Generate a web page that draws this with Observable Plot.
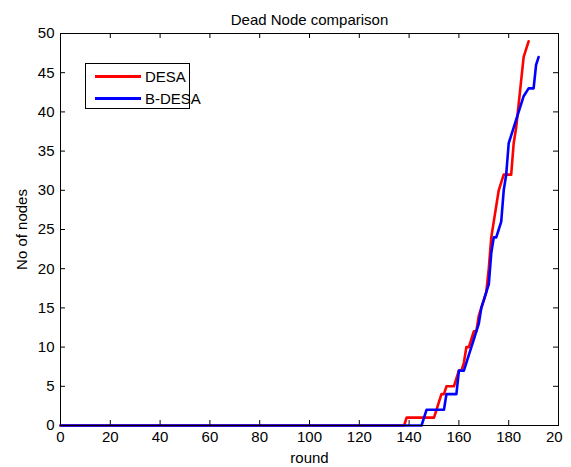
<!DOCTYPE html>
<html><head><meta charset="utf-8">
<script src="https://cdn.jsdelivr.net/npm/d3@7"></script>
<script src="https://cdn.jsdelivr.net/npm/@observablehq/plot@0.6"></script>
<style>
body{margin:0;background:#fff;font-family:"Liberation Sans",Arial,sans-serif}
#wrap{position:relative;width:571px;height:467px}
#chart svg{overflow:hidden;display:block}
#legend{position:absolute;left:85px;top:63px;width:105px;height:46px;border:1px solid #000;background:#fff;box-sizing:border-box}
.row{position:absolute;left:9px;height:18px;display:flex;align-items:center;font-size:15px;color:#000;white-space:nowrap}
.sw{width:46px;height:3px;margin-right:4px;flex:none}
</style>
</head><body>
<div id="wrap"><div id="chart"></div>
<div id="legend">
  <div class="row" style="top:3px"><div class="sw" style="background:#ff0000"></div><span>DESA</span></div>
  <div class="row" style="top:25px"><div class="sw" style="background:#0000ff"></div><span>B-DESA</span></div>
</div></div>
<script>
const seriesNames = ["DESA", "B-DESA"];
const desaRounds = [0,138,139,150,151,152,153,154,155,158,159,160,161,162,163,164,165,166,167,168,169,170,171,172,173,174,175,176,177,178,181,182,183,184,185,186,187,188];
const desaNodes  = [0,0,1,1,2,3,4,4,5,5,6,7,7,8,10,10,11,12,12,14,15,16,17,20,24,26,28,30,31,32,32,36,38,41,44,47,48,49];
const bdesaRounds = [0,145,146,147,154,155,159,160,162,163,164,165,166,167,168,169,170,171,172,173,174,175,176,177,178,179,180,181,182,183,184,185,186,188,190,191,192];
const bdesaNodes  = [0,0,1,2,2,4,4,7,7,8,9,10,11,12,13,15,16,17,18,22,24,24,25,26,30,32,36,37,38,39,40,41,42,43,43,46,47];
const xTicks = [0,20,40,60,80,100,120,140,160,180,200];
const yTicks = [0,5,10,15,20,25,30,35,40,45,50];

const W = 563, H = 467, mL = 60, mR = 5, mT = 33, mB = 42;
const fw = W - mL - mR, fh = H - mT - mB;
const tick = 5;

const data = [
  ...desaRounds.map((r, i) => ({series: seriesNames[0], round: r, nodes: desaNodes[i]})),
  ...bdesaRounds.map((r, i) => ({series: seriesNames[1], round: r, nodes: bdesaNodes[i]}))
];

const chart = Plot.plot({
  width: W, height: H,
  marginLeft: mL, marginRight: mR, marginTop: mT, marginBottom: mB,
  style: {fontFamily: '"Liberation Sans", Arial, sans-serif', fontSize: "15px", color: "#000", background: "#fff"},
  x: {domain: [0, 200]},
  y: {domain: [0, 50]},
  color: {domain: seriesNames, range: ["#ff0000", "#0000ff"]},
  marks: [
    Plot.line(data, {x: "round", y: "nodes", z: "series", stroke: "series", strokeWidth: 2.6}),
    Plot.frame({stroke: "#000", strokeWidth: 1}),
    Plot.tickX(xTicks, {x: d => d, insetTop: fh - tick, stroke: "#000"}),
    Plot.tickX(xTicks, {x: d => d, insetBottom: fh - tick, stroke: "#000"}),
    Plot.tickY(yTicks, {y: d => d, insetRight: fw - tick, stroke: "#000"}),
    Plot.tickY(yTicks, {y: d => d, insetLeft: fw - tick, stroke: "#000"}),
    Plot.axisX(xTicks, {tickSize: 0, tickPadding: 6, label: null, fontSize: 15}),
    Plot.axisY(yTicks, {tickSize: 0, tickPadding: 6, label: null, fontSize: 15}),
    Plot.text(["Dead Node comparison"], {frameAnchor: "top", dy: -19, fontSize: 15, fill: "#000"}),
    Plot.text(["round"], {frameAnchor: "bottom", dy: 37, fontSize: 15, fill: "#000"}),
    Plot.text(["No of nodes"], {frameAnchor: "left", textAnchor: "middle", dx: -38, rotate: -90, fontSize: 15, fill: "#000"})
  ]
});
document.getElementById("chart").appendChild(chart);
</script>
</body></html>
